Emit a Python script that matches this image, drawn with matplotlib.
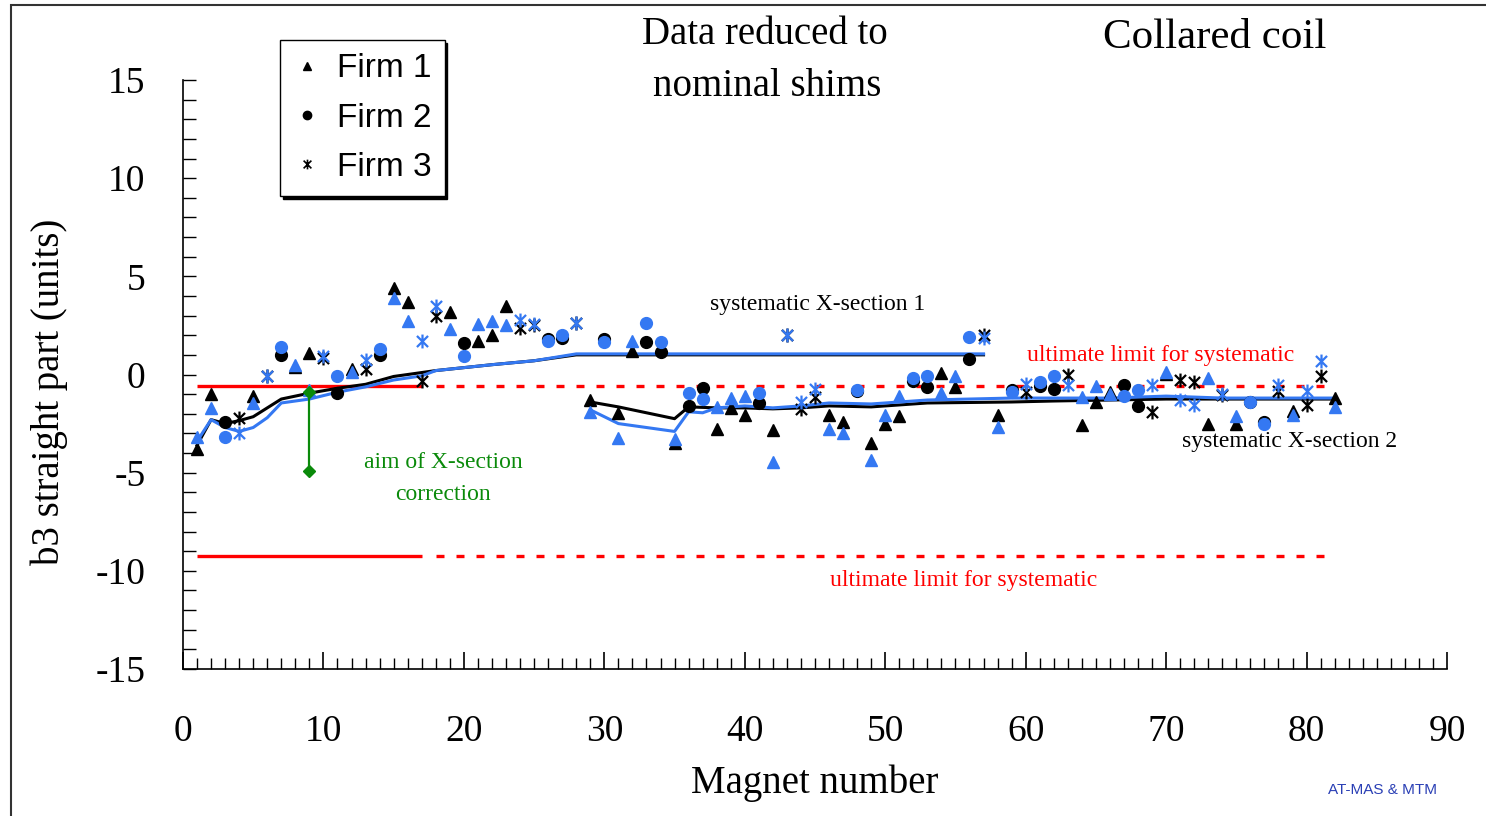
import matplotlib.pyplot as plt
from matplotlib.lines import Line2D
from matplotlib.path import Path
from matplotlib.patches import Rectangle
from matplotlib.ticker import MultipleLocator

plt.rcParams['font.family'] = ['Liberation Serif', 'DejaVu Serif']
plt.rcParams['axes.unicode_minus'] = False

# Firm 1 (triangles): magnet number, black and blue values
f1_x = [1, 2, 5, 8, 9, 12, 15, 16, 19, 21, 22, 23, 29, 31, 32, 35, 38, 39, 40, 42,
        46, 47, 49, 50, 51, 54, 55, 58, 64, 65, 66, 70, 73, 75, 79, 82]
f1_black = [-3.8, -1.0, -1.1, 0.4, 1.1, 0.3, 4.4, 3.7, 3.2, 1.7, 2.0, 3.5, -1.3, -1.95, 1.2, -3.5,
            -2.8, -1.7, -2.05, -2.85, -2.05, -2.4, -3.5, -2.5, -2.1, 0.1, -0.65, -2.05,
            -2.55, -1.4, -0.9, 0.05, -2.5, -2.5, -1.85, -1.2]
f1_blue = [-3.2, -1.7, -1.45, 0.5, -0.8, 0.15, 3.9, 2.7, 2.3, 2.55, 2.7, 2.5, -1.9, -3.25, 1.7, -3.3,
           -1.65, -1.2, -1.1, -4.45, -2.8, -3.0, -4.35, -2.05, -1.1, -0.95, -0.1, -2.65,
           -1.15, -0.6, -1.0, 0.15, -0.2, -2.1, -2.05, -1.65]

# Firm 2 (circles)
f2_x = [3, 7, 11, 14, 20, 26, 27, 30, 33, 34, 36, 37, 41, 48, 52, 53, 56, 59, 61, 62,
        67, 68, 76, 77]
f2_black = [-2.4, 1.0, -0.95, 1.0, 1.6, 1.8, 1.85, 1.8, 1.65, 1.15, -1.6, -0.7, -1.45, -0.85,
            -0.35, -0.65, 0.8, -0.8, -0.6, -0.75, -0.55, -1.6, -1.4, -2.4]
f2_blue = [-3.2, 1.4, -0.1, 1.3, 0.95, 1.7, 2.0, 1.65, 2.6, 1.65, -0.95, -1.25, -0.95, -0.8,
           -0.2, -0.1, 1.9, -0.9, -0.4, -0.1, -1.1, -0.8, -1.4, -2.5]

# Firm 3 (asterisks)
f3_x = [4, 6, 10, 13, 17, 18, 24, 25, 28, 43, 44, 45, 57, 60, 63, 69, 71, 72, 74, 78, 80, 81]
f3_black = [-2.2, -0.1, 0.85, 0.3, -0.35, 3.0, 2.35, 2.5, 2.6, 2.0, -1.75, -1.15, 2.0, -0.9,
            0.0, -1.9, -0.3, -0.4, -1.05, -0.85, -1.55, -0.1]
f3_blue = [-3.0, -0.1, 0.95, 0.75, 1.7, 3.5, 2.8, 2.55, 2.6, 2.0, -1.4, -0.75, 1.85, -0.5,
           -0.55, -0.55, -1.3, -1.55, -1.0, -0.55, -0.85, 0.7]

# systematic X-section 1 (running averages)
sys1_black_x = [1, 2, 3, 4, 5, 6, 7, 8, 9, 11, 13, 15, 17, 18, 20, 22, 25, 28, 34, 43, 57]
sys1_black_y = [-3.6, -2.3, -2.5, -2.35, -2.15, -1.7, -1.25, -1.1, -0.95, -0.7, -0.5, -0.1, 0.1,
                0.2, 0.35, 0.5, 0.7, 1.0, 1.0, 1.0, 1.0]
sys1_blue_x = [1, 2, 3, 4, 5, 6, 7, 9, 11, 13, 15, 17, 18, 20, 22, 25, 28, 34, 43, 57]
sys1_blue_y = [-3.4, -2.3, -2.7, -2.9, -2.7, -2.2, -1.45, -1.25, -0.9, -0.63, -0.28, -0.07, 0.2,
               0.35, 0.5, 0.7, 1.05, 1.05, 1.05, 1.05]

# systematic X-section 2 (running averages)
sys2_black_x = [29, 31, 35, 36, 38, 40, 42, 44, 46, 49, 53, 59, 62, 66, 70, 74, 78, 82]
sys2_black_y = [-1.4, -1.65, -2.25, -1.65, -1.7, -1.7, -1.75, -1.7, -1.6, -1.65, -1.45, -1.4,
                -1.35, -1.3, -1.25, -1.25, -1.25, -1.25]
sys2_blue_x = [29, 31, 35, 36, 37, 38, 40, 42, 44, 46, 49, 53, 59, 62, 66, 70, 74, 78, 82]
sys2_blue_y = [-1.8, -2.5, -2.9, -1.9, -1.95, -1.7, -1.6, -1.7, -1.6, -1.45, -1.5, -1.3, -1.2,
               -1.2, -1.2, -1.1, -1.2, -1.2, -1.2]

# ultimate limits
limit_hi = -0.6
limit_lo = -9.25
solid_x = [1, 17]
dashed_x = [18, 82]

# aim of X-section correction
aim_x = [9, 9]
aim_y = [-0.9, -4.9]

blue = '#3478F2'
red = '#FF0000'
green = '#0A8A0A'

star = Path([(0, -1), (0, 1), (-0.8, -0.8), (0.8, 0.8), (-0.8, 0.8), (0.8, -0.8)],
            [Path.MOVETO, Path.LINETO] * 3)

fig = plt.figure(figsize=(14.86, 8.16), dpi=100)
ax = fig.add_axes([183 / 1486, 1 - 669 / 816, 1264 / 1486, 589 / 816])

# limit lines
for yl in (limit_hi, limit_lo):
    ax.plot(solid_x, [yl, yl], color=red, lw=2.4, solid_capstyle='butt', zorder=2)
    ax.plot(dashed_x, [yl, yl], color=red, lw=2.4, dashes=(2.4, 3.6), zorder=2)

# running averages
ax.plot(sys1_black_x, sys1_black_y, color='black', lw=2.2, zorder=2)
ax.plot(sys1_blue_x, sys1_blue_y, color=blue, lw=2.2, zorder=2)
ax.plot(sys2_black_x, sys2_black_y, color='black', lw=2.2, zorder=2)
ax.plot(sys2_blue_x, sys2_blue_y, color=blue, lw=2.2, zorder=2)

# data points
ax.plot(f1_x, f1_black, ls='none', marker='^', ms=8.5, color='black', zorder=3)
ax.plot(f2_x, f2_black, ls='none', marker='o', ms=8.5, color='black', zorder=3)
ax.plot(f3_x, f3_black, ls='none', marker=star, ms=10, mec='black', mew=1.6, zorder=3)
ax.plot(f1_x, f1_blue, ls='none', marker='^', ms=8.5, color=blue, zorder=4)
ax.plot(f2_x, f2_blue, ls='none', marker='o', ms=8.5, color=blue, zorder=4)
ax.plot(f3_x, f3_blue, ls='none', marker=star, ms=10, mec=blue, mew=1.6, zorder=4)

# aim line
ax.plot(aim_x, aim_y, color=green, lw=1.6, marker='D', ms=6, zorder=5)

ax.text(18.5, -5.3, 'aim of X-section\ncorrection', color=green, fontsize=17,
        ha='center', va='center', linespacing=1.7)
ax.text(45.2, 3.55, 'systematic X-section 1', fontsize=17, ha='center', va='center')
ax.text(69.6, 0.95, 'ultimate limit for systematic', color=red, fontsize=17, ha='center', va='center')
ax.text(78.8, -3.4, 'systematic X-section 2', fontsize=17, ha='center', va='center')
ax.text(55.6, -10.5, 'ultimate limit for systematic', color=red, fontsize=17, ha='center', va='center')

ax.set_xlim(0, 90)
ax.set_ylim(-15, 15)
ax.xaxis.set_major_locator(MultipleLocator(10))
ax.xaxis.set_minor_locator(MultipleLocator(1))
ax.yaxis.set_major_locator(MultipleLocator(5))
ax.yaxis.set_minor_locator(MultipleLocator(1))
ax.tick_params(axis='y', which='both', direction='in', length=9, width=1, pad=27, labelsize=27)
ax.tick_params(axis='x', which='major', direction='in', length=12, width=1.2, pad=33, labelsize=27)
ax.tick_params(axis='x', which='minor', direction='in', length=8, width=1)
ax.spines['top'].set_visible(False)
ax.spines['right'].set_visible(False)
ax.spines['left'].set_linewidth(1.2)
ax.spines['bottom'].set_linewidth(1.2)

ax.set_ylabel('b3 straight part (units)', fontsize=28)
ax.yaxis.set_label_coords(-0.091, 0.47)
ax.set_xlabel('Magnet number', fontsize=28, va='top')
ax.xaxis.set_label_coords(0.5, -0.162)

# legend
handles = [
    Line2D([], [], ls='none', marker='^', ms=6, color='black'),
    Line2D([], [], ls='none', marker='o', ms=6, color='black'),
    Line2D([], [], ls='none', marker=star, ms=7, mec='black', mew=1.2),
]
leg = fig.legend(handles, ['Firm 1', 'Firm 2', 'Firm 3'], loc='upper left',
                 bbox_to_anchor=(280 / 1486, 1 - 40 / 816), borderaxespad=0,
                 prop={'family': 'Liberation Sans', 'size': 24}, fancybox=False,
                 edgecolor='black', framealpha=1, handlelength=0.8, handletextpad=0.5,
                 labelspacing=0.55, borderpad=0.4,
                 shadow={'color': 'black', 'alpha': 1})
leg.get_frame().set_linewidth(1)

# titles
fig.text(765 / 1486, 1 - 35 / 816, 'Data reduced to', fontsize=28, ha='center', va='center')
fig.text(767 / 1486, 1 - 87 / 816, 'nominal shims', fontsize=28, ha='center', va='center')
fig.text(1215 / 1486, 1 - 38 / 816, 'Collared coil', fontsize=31, ha='center', va='center')
fig.text(1383 / 1486, 1 - 790 / 816, 'AT-MAS & MTM', fontsize=11, color='#2a3fb5',
         family='Liberation Sans', ha='center', va='center')

# outer frame
fig.patches.append(Rectangle((11 / 1486, -0.1), 1.2, 1.1 - 5 / 816, transform=fig.transFigure,
                             fill=False, lw=1.5, edgecolor='#333333'))

fig.savefig('out.png', dpi=100)
